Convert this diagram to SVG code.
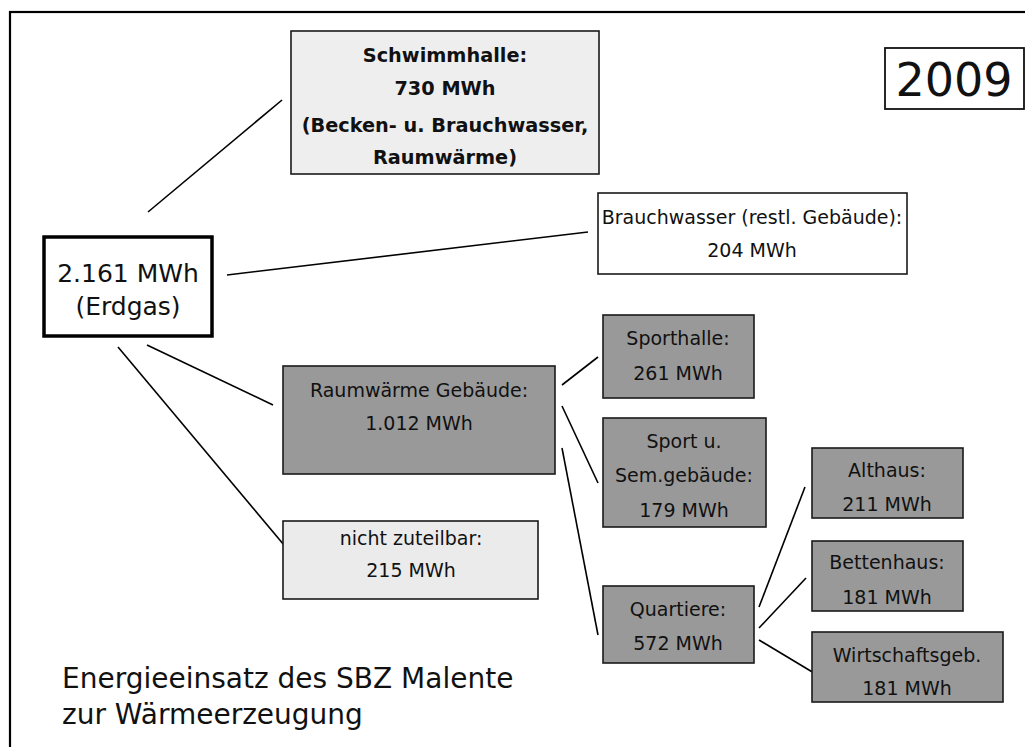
<svg xmlns="http://www.w3.org/2000/svg" width="1025" height="747" viewBox="0 0 1025 747">
<style>
text{font-family:"DejaVu Sans","Liberation Sans",sans-serif;fill:#111;text-anchor:middle}
.t{font-size:19px}
.b{font-size:19.3px;font-weight:bold}
.box{stroke:#1a1a1a;stroke-width:1.6}
.dark{fill:#999999}
.light{fill:#ebebeb}
.white{fill:#ffffff}
.conn line{stroke:#000;stroke-width:1.6}
</style>
<rect x="0" y="0" width="1025" height="747" fill="#ffffff"/>
<rect id="frame" x="10" y="12" width="1040" height="760" fill="none" stroke="#000" stroke-width="2.2"/>
<g class="conn" id="connectors">
<line x1="148" y1="212" x2="282" y2="100"/>
<line x1="227" y1="275" x2="588" y2="232"/>
<line x1="147" y1="345" x2="273" y2="405"/>
<line x1="118" y1="347" x2="284" y2="545"/>
<line x1="562" y1="385" x2="598" y2="357"/>
<line x1="562" y1="406" x2="598" y2="483"/>
<line x1="562" y1="448" x2="598" y2="635"/>
<line x1="759" y1="607" x2="805" y2="487"/>
<line x1="759" y1="628" x2="806" y2="578"/>
<line x1="759" y1="640" x2="814" y2="673"/>
</g>
<g id="year">
<rect x="885" y="48" width="139" height="61" fill="#fff" stroke="#111" stroke-width="1.8"/>
<text x="954" y="96" style="font-size:46px">2009</text>
</g>
<g id="schwimmhalle">
<rect class="box light" x="291" y="31" width="308" height="143" style="fill:#eeeeee"/>
<text class="b" x="445" y="62">Schwimmhalle:</text>
<text class="b" x="445" y="95">730 MWh</text>
<text class="b" x="445" y="132">(Becken- u. Brauchwasser,</text>
<text class="b" x="445" y="164">Raumwärme)</text>
</g>
<g id="brauchwasser">
<rect class="box white" x="598" y="193" width="309" height="81"/>
<text class="t" x="752" y="224">Brauchwasser (restl. Gebäude):</text>
<text class="t" x="752" y="257">204 MWh</text>
</g>
<g id="erdgas">
<rect x="44" y="237" width="168" height="99" fill="#fff" stroke="#000" stroke-width="3.5"/>
<text x="128" y="282" style="font-size:25px">2.161 MWh</text>
<text x="128" y="315" style="font-size:25px">(Erdgas)</text>
</g>
<g id="raumwaerme">
<rect class="box dark" x="283" y="366" width="272" height="108"/>
<text class="t" x="419" y="397">Raumwärme Gebäude:</text>
<text class="t" x="419" y="430">1.012 MWh</text>
</g>
<g id="nicht-zuteilbar">
<rect class="box light" x="283" y="521" width="255" height="78"/>
<text class="t" x="411" y="545">nicht zuteilbar:</text>
<text class="t" x="411" y="577">215 MWh</text>
</g>
<g id="sporthalle">
<rect class="box dark" x="603" y="315" width="151" height="83"/>
<text class="t" x="678" y="345">Sporthalle:</text>
<text class="t" x="678" y="380">261 MWh</text>
</g>
<g id="sport-sem">
<rect class="box dark" x="603" y="418" width="163" height="109"/>
<text class="t" x="684" y="448">Sport u.</text>
<text class="t" x="684" y="482">Sem.gebäude:</text>
<text class="t" x="684" y="517">179 MWh</text>
</g>
<g id="quartiere">
<rect class="box dark" x="603" y="586" width="151" height="77"/>
<text class="t" x="678" y="616">Quartiere:</text>
<text class="t" x="678" y="650">572 MWh</text>
</g>
<g id="althaus">
<rect class="box dark" x="812" y="448" width="151" height="70"/>
<text class="t" x="887" y="477">Althaus:</text>
<text class="t" x="887" y="511">211 MWh</text>
</g>
<g id="bettenhaus">
<rect class="box dark" x="812" y="541" width="151" height="70"/>
<text class="t" x="887" y="569">Bettenhaus:</text>
<text class="t" x="887" y="604">181 MWh</text>
</g>
<g id="wirtschaftsgeb">
<rect class="box dark" x="812" y="632" width="191" height="70"/>
<text class="t" x="907" y="662">Wirtschaftsgeb.</text>
<text class="t" x="907" y="695">181 MWh</text>
</g>
<g id="title">
<text x="62" y="688" style="font-size:28px;text-anchor:start">Energieeinsatz des SBZ Malente</text>
<text x="62" y="724" style="font-size:28px;text-anchor:start">zur Wärmeerzeugung</text>
</g>
</svg>
